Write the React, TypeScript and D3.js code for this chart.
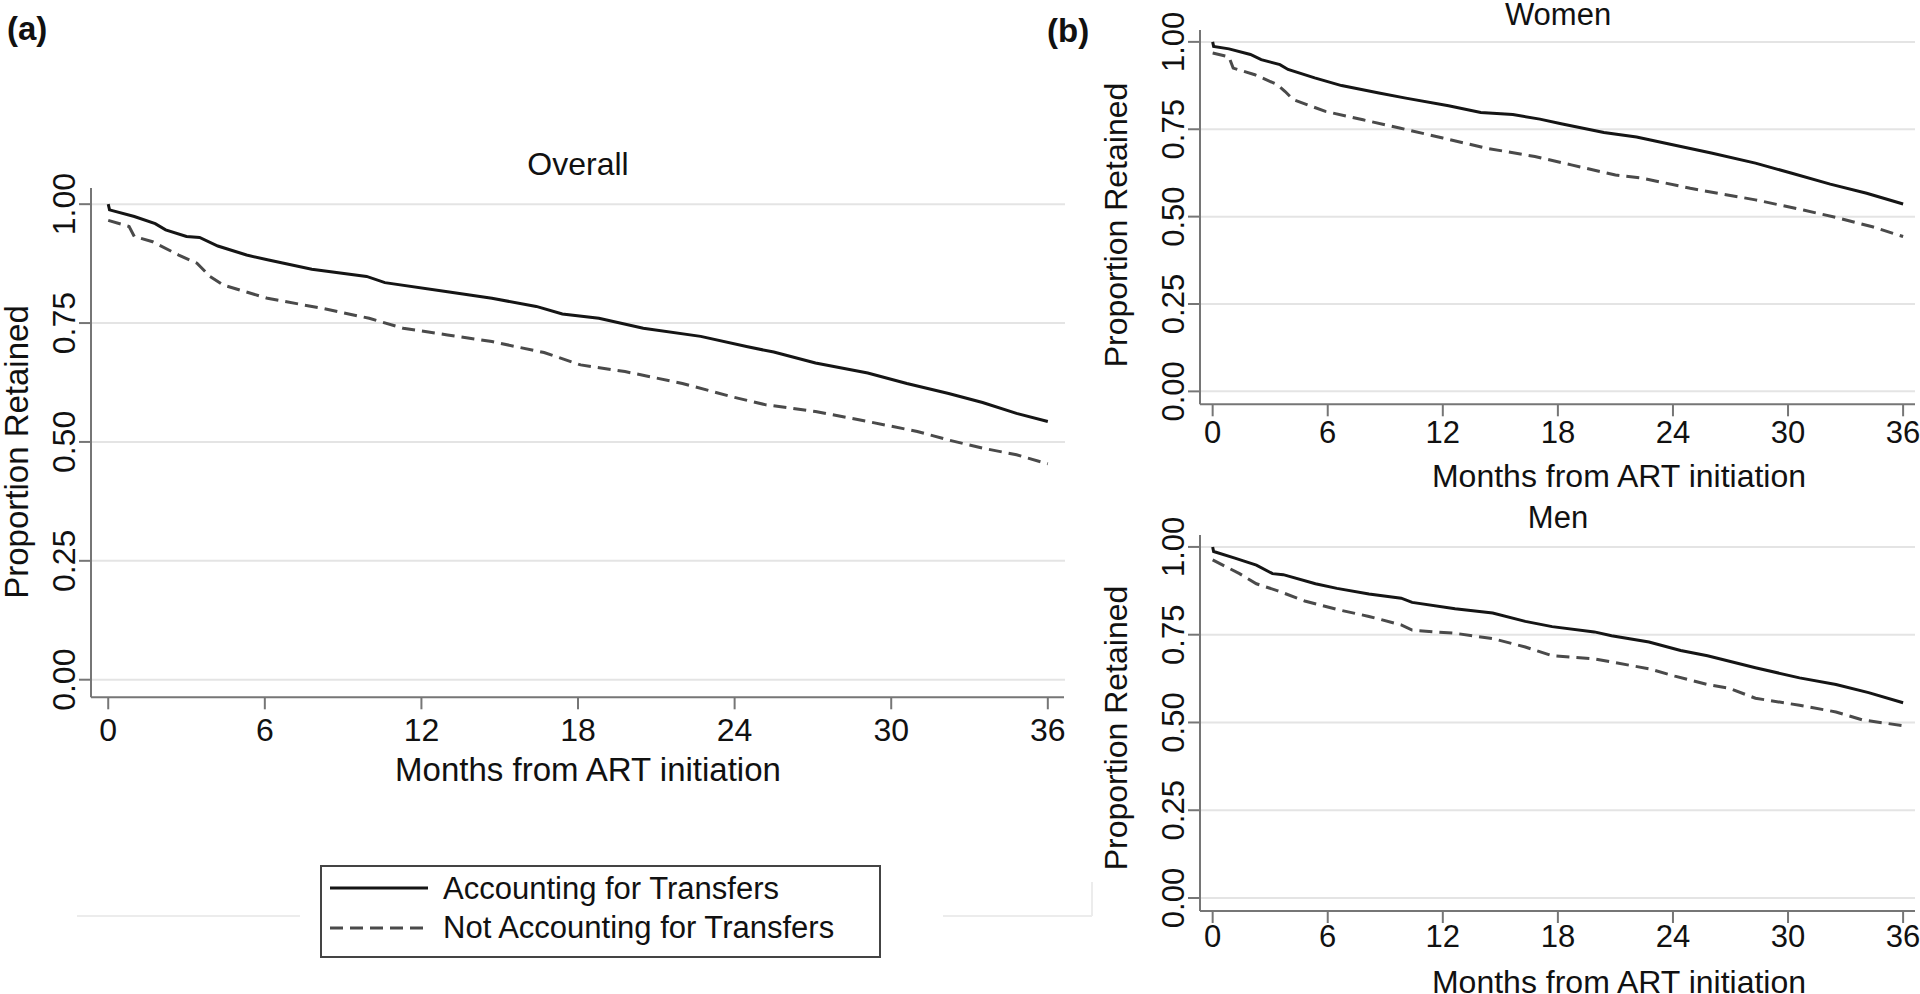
import React from "react";
import * as d3 from "d3";

// ---- data (month, proportion retained) ----
const xTicks = [0, 6, 12, 18, 24, 30, 36];
const yTicks = [0, 0.25, 0.5, 0.75, 1.0];

const overallAccounting: [number, number][] = [
  [0, 1.0], [0.05, 0.988], [1, 0.974], [1.8, 0.959], [2.2, 0.946], [3, 0.932], [3.5, 0.93],
  [4.2, 0.912], [5.3, 0.893], [6.1, 0.883], [7.8, 0.863], [9.9, 0.848], [10.6, 0.835],
  [13, 0.816], [14.7, 0.802], [16.4, 0.785], [17.4, 0.769], [18.8, 0.76], [20.5, 0.739],
  [22.7, 0.722], [24.5, 0.7], [25.5, 0.689], [27.1, 0.666], [29.1, 0.645], [30.6, 0.623],
  [32.2, 0.602], [33.5, 0.583], [34.8, 0.56], [36, 0.543],
];
const overallNotAccounting: [number, number][] = [
  [0, 0.966], [0.8, 0.953], [1.0, 0.932], [1.7, 0.921], [2.7, 0.893], [3.4, 0.876],
  [3.9, 0.848], [4.4, 0.83], [6.1, 0.802], [8.2, 0.781], [10, 0.76], [11.3, 0.739],
  [13, 0.725], [14.7, 0.711], [16.7, 0.688], [18.1, 0.662], [19.8, 0.648], [22, 0.623],
  [23.9, 0.595], [25.2, 0.578], [27.1, 0.564], [29.1, 0.543], [31, 0.522], [32.2, 0.504],
  [33.5, 0.487], [34.8, 0.473], [36, 0.454],
];
const womenAccounting: [number, number][] = [
  [0, 1.0], [0.05, 0.987], [0.85, 0.98], [1.97, 0.964], [2.53, 0.949], [3.51, 0.935],
  [3.93, 0.921], [5.32, 0.897], [6.72, 0.875], [8.67, 0.854], [10.07, 0.839], [12.3, 0.817],
  [13.98, 0.798], [15.65, 0.792], [17.06, 0.779], [18.17, 0.766], [20.4, 0.741],
  [22.1, 0.728], [23.8, 0.708], [26.0, 0.682], [28.3, 0.653], [30.2, 0.624], [32.2, 0.593],
  [34.1, 0.567], [36, 0.536],
];
const womenNotAccounting: [number, number][] = [
  [0, 0.968], [0.85, 0.957], [1.07, 0.925], [2.2, 0.906], [3.36, 0.878], [3.78, 0.858],
  [4.2, 0.835], [5.88, 0.801], [7.84, 0.777], [9.8, 0.753], [12.0, 0.725], [14.25, 0.696],
  [16.8, 0.672], [18.7, 0.648], [21.0, 0.619], [22.4, 0.61], [24.9, 0.581], [28.3, 0.548],
  [30.8, 0.519], [32.7, 0.495], [34.4, 0.471], [36, 0.443],
];
const menAccounting: [number, number][] = [
  [0, 1.0], [0.05, 0.987], [1.16, 0.968], [2.28, 0.948], [3.12, 0.924], [3.68, 0.921],
  [5.36, 0.895], [6.48, 0.882], [8.15, 0.866], [9.83, 0.854], [10.4, 0.842], [12.64, 0.824],
  [14.6, 0.812], [16.3, 0.788], [17.7, 0.773], [19.9, 0.758], [20.8, 0.747], [22.75, 0.729],
  [24.4, 0.705], [25.8, 0.69], [28.3, 0.656], [30.6, 0.627], [32.5, 0.608], [34.2, 0.585],
  [36, 0.556],
];
const menNotAccounting: [number, number][] = [
  [0, 0.963], [1.4, 0.924], [2.28, 0.895], [3.4, 0.875], [4.8, 0.846], [6.48, 0.822],
  [8.15, 0.802], [9.83, 0.778], [10.4, 0.763], [12.64, 0.754], [14.6, 0.739], [16.3, 0.715],
  [17.7, 0.69], [19.9, 0.681], [22.75, 0.653], [24.1, 0.632], [25.8, 0.608], [26.9, 0.598],
  [28.3, 0.569], [30.6, 0.549], [32.5, 0.53], [33.9, 0.507], [36, 0.491],
];

const legendLabels = ["Accounting for Transfers", "Not Accounting for Transfers"];
const panelTitles = ["Overall", "Women", "Men"];
const xTitle = "Months from ART initiation";
const yTitle = "Proportion Retained";

const FONT = "'Liberation Sans', Arial, Helvetica, sans-serif";
const AXIS = "#767676";
const GRID = "#e4e4e4";

type PanelProps = {
  left: number; right: number; top: number; bottom: number;
  solid: [number, number][]; dashed: [number, number][];
  title: string; titleX: number; titleY: number;
  fs: number; tickLabelDy: number; xTitleX: number; xTitleY: number;
  yTitleX: number; yTitleY: number; gridRight: number;
};

function Panel(p: PanelProps) {
  const x = d3.scaleLinear().domain([-0.66, 36.62]).range([p.left, p.right]);
  const y = d3.scaleLinear().domain([-0.037, 1.034]).range([p.bottom, p.top]);
  const line = d3.line<[number, number]>().x((d) => x(d[0])).y((d) => y(d[1])).curve(d3.curveLinear);
  return (
    <g fontFamily={FONT} fill="#111">
      {yTicks.map((t) => (
        <line key={"g" + t} x1={p.left} x2={p.gridRight} y1={y(t)} y2={y(t)} stroke={GRID} strokeWidth={2} />
      ))}
      <path d={line(p.dashed) || ""} fill="none" stroke="#4a4a4a" strokeWidth={3} strokeDasharray="13,7" />
      <path d={line(p.solid) || ""} fill="none" stroke="#151515" strokeWidth={3} />
      <line x1={p.left} x2={p.left} y1={p.top} y2={p.bottom} stroke={AXIS} strokeWidth={2} />
      <line x1={p.left} x2={p.right} y1={p.bottom} y2={p.bottom} stroke={AXIS} strokeWidth={2} />
      {yTicks.map((t) => (
        <g key={"y" + t}>
          <line x1={p.left - 12} x2={p.left} y1={y(t)} y2={y(t)} stroke={AXIS} strokeWidth={2} />
          <text transform={`translate(${p.left - 16},${y(t)}) rotate(-90)`} textAnchor="middle" fontSize={p.fs}>
            {d3.format(".2f")(t)}
          </text>
        </g>
      ))}
      {xTicks.map((t) => (
        <g key={"x" + t}>
          <line x1={x(t)} x2={x(t)} y1={p.bottom} y2={p.bottom + 12} stroke={AXIS} strokeWidth={2} />
          <text x={x(t)} y={p.bottom + p.tickLabelDy} textAnchor="middle" fontSize={p.fs}>{t}</text>
        </g>
      ))}
      <text x={p.titleX} y={p.titleY} textAnchor="middle" fontSize={p.fs}>{p.title}</text>
      <text x={p.xTitleX} y={p.xTitleY} textAnchor="middle" fontSize={p.fs + 1}>{xTitle}</text>
      <text transform={`translate(${p.yTitleX},${p.yTitleY}) rotate(-90)`} textAnchor="middle" fontSize={p.fs + 1}>
        {yTitle}
      </text>
    </g>
  );
}

export default function App() {
  return (
    <div style={{ position: "absolute", left: 0, top: 0 }}>
      <svg width={1920} height={994} style={{ display: "block", background: "#fff" }}>
        <rect x={0} y={0} width={1920} height={994} fill="#fff" />
        <text x={7} y={40} fontFamily={FONT} fontWeight="bold" fontSize={33} fill="#111">(a)</text>
        <text x={1047} y={42} fontFamily={FONT} fontWeight="bold" fontSize={33} fill="#111">(b)</text>

        <Panel left={91} right={1064} top={188} bottom={697.3} gridRight={1065}
          solid={overallAccounting} dashed={overallNotAccounting}
          title={panelTitles[0]} titleX={578} titleY={175} fs={32} tickLabelDy={44}
          xTitleX={588} xTitleY={781} yTitleX={28} yTitleY={452} />
        <Panel left={1200} right={1915} top={30} bottom={404.3} gridRight={1915}
          solid={womenAccounting} dashed={womenNotAccounting}
          title={panelTitles[1]} titleX={1558} titleY={25} fs={31} tickLabelDy={39}
          xTitleX={1619} xTitleY={487} yTitleX={1127} yTitleY={225} />
        <Panel left={1200} right={1915} top={535} bottom={911} gridRight={1915}
          solid={menAccounting} dashed={menNotAccounting}
          title={panelTitles[2]} titleX={1558} titleY={528} fs={31} tickLabelDy={36}
          xTitleX={1619} xTitleY={993} yTitleX={1127} yTitleY={728} />

        {/* faint region borders around legend */}
        <line x1={77} x2={300} y1={916} y2={916} stroke="#ececec" strokeWidth={2} />
        <line x1={943} x2={1092} y1={916} y2={916} stroke="#ececec" strokeWidth={2} />
        <line x1={1092} x2={1092} y1={882} y2={916} stroke="#ececec" strokeWidth={2} />

        <g fontFamily={FONT} fill="#111">
          <rect x={321} y={866} width={559} height={91} fill="#fff" stroke="#444" strokeWidth={2} />
          <line x1={330} x2={428} y1={888} y2={888} stroke="#151515" strokeWidth={3} />
          <line x1={330} x2={428} y1={928} y2={928} stroke="#4a4a4a" strokeWidth={3} strokeDasharray="13,7" />
          <text x={443} y={899} fontSize={31}>{legendLabels[0]}</text>
          <text x={443} y={938} fontSize={31}>{legendLabels[1]}</text>
        </g>
      </svg>
    </div>
  );
}
